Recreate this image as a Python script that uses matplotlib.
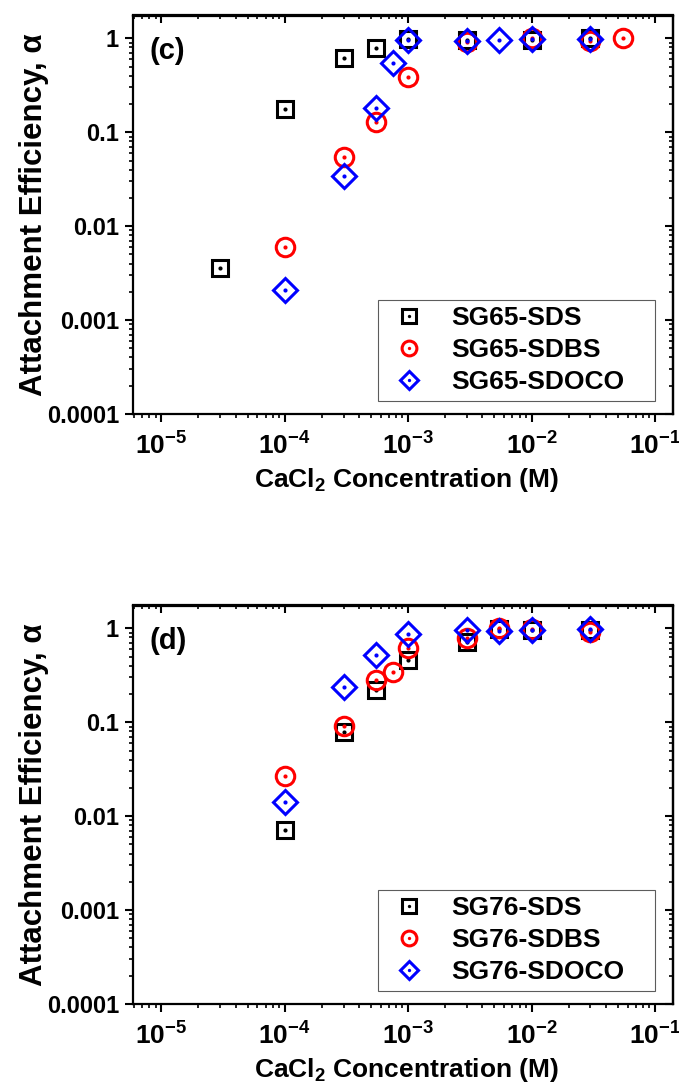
import matplotlib
matplotlib.use("Agg")
import matplotlib.pyplot as plt
from matplotlib.ticker import LogLocator, FixedLocator, FixedFormatter, NullFormatter
from matplotlib.legend_handler import HandlerTuple

plt.rcParams['font.family'] = ['Liberation Sans', 'DejaVu Sans']
plt.rcParams['font.weight'] = 'bold'
plt.rcParams['mathtext.fontset'] = 'custom'
plt.rcParams['mathtext.rm'] = 'Liberation Sans:bold'
plt.rcParams['mathtext.it'] = 'Liberation Sans:bold'
plt.rcParams['mathtext.bf'] = 'Liberation Sans:bold'

# ---------------- data ----------------
# panel (c)
c_sds_x = [3e-5, 1e-4, 3e-4, 5.5e-4, 1e-3, 3e-3, 1e-2, 3e-2]
c_sds_y = [0.0036, 0.175, 0.62, 0.78, 0.99, 0.97, 0.97, 1.0]
c_sdbs_x = [1e-4, 3e-4, 5.5e-4, 1e-3, 3e-3, 1e-2, 3e-2, 5.5e-2]
c_sdbs_y = [0.006, 0.054, 0.13, 0.39, 0.92, 1.0, 0.93, 1.0]
c_sdoco_x = [1e-4, 3e-4, 5.5e-4, 7.6e-4, 1e-3, 3e-3, 5.5e-3, 1e-2, 3e-2]
c_sdoco_y = [0.0021, 0.034, 0.18, 0.55, 0.95, 0.94, 0.96, 0.98, 0.98]

# panel (d)
d_sds_x = [1e-4, 3e-4, 5.5e-4, 1e-3, 3e-3, 5.5e-3, 1e-2, 3e-2]
d_sds_y = [0.0071, 0.079, 0.22, 0.46, 0.72, 0.98, 0.96, 0.97]
d_sdbs_x = [1e-4, 3e-4, 5.5e-4, 7.6e-4, 1e-3, 3e-3, 5.5e-3, 1e-2, 3e-2]
d_sdbs_y = [0.027, 0.092, 0.28, 0.34, 0.61, 0.78, 1.0, 0.98, 0.92]
d_sdoco_x = [1e-4, 3e-4, 5.5e-4, 1e-3, 3e-3, 5.5e-3, 1e-2, 3e-2]
d_sdoco_y = [0.014, 0.24, 0.52, 0.87, 0.95, 0.93, 0.96, 0.98]

c_labels = ['SG65-SDS', 'SG65-SDBS', 'SG65-SDOCO']
d_labels = ['SG76-SDS', 'SG76-SDBS', 'SG76-SDOCO']
panel_tags = ['(c)', '(d)']

x_ticks = [1e-5, 1e-4, 1e-3, 1e-2, 1e-1]
x_ticklabels = [r'$10^{-5}$', r'$10^{-4}$', r'$10^{-3}$', r'$10^{-2}$', r'$10^{-1}$']
y_ticks = [1e-4, 1e-3, 1e-2, 1e-1, 1]
y_ticklabels = ['0.0001', '0.001', '0.01', '0.1', '1']
xlim = (5.9e-6, 0.14)
ylim = (1e-4, 1.75)

x_label = r'CaCl$_2$ Concentration (M)'
y_label = 'Attachment Efficiency, α'

styles = [
    dict(marker='s', ms=12, color='black'),
    dict(marker='o', ms=13.3, color='red'),
    dict(marker='D', ms=12, color='blue'),
]

W, H = 679, 1088
fig = plt.figure(figsize=(W / 100, H / 100), dpi=100)
L, R = 133, 673
panels = [(15.5, 414), (605.5, 1004)]

datasets = [
    [(c_sds_x, c_sds_y), (c_sdbs_x, c_sdbs_y), (c_sdoco_x, c_sdoco_y)],
    [(d_sds_x, d_sds_y), (d_sdbs_x, d_sdbs_y), (d_sdoco_x, d_sdoco_y)],
]
labelsets = [c_labels, d_labels]

for (top, bot), data, labels, tag in zip(panels, datasets, labelsets, panel_tags):
    ax = fig.add_axes([L / W, (H - bot) / H, (R - L) / W, (bot - top) / H])
    ax.set_xscale('log')
    ax.set_yscale('log')
    handles = []
    for (xs, ys), st in zip(data, styles):
        h1, = ax.plot(xs, ys, linestyle='none', marker=st['marker'], ms=st['ms'],
                      mfc='none', mec=st['color'], mew=2.2)
        h2, = ax.plot(xs, ys, linestyle='none', marker='o', ms=3.0,
                      mfc=st['color'], mec=st['color'], mew=0)
        handles.append((h1, h2))
    ax.set_xlim(*xlim)
    ax.set_ylim(*ylim)

    ax.xaxis.set_major_locator(FixedLocator(x_ticks))
    ax.xaxis.set_major_formatter(FixedFormatter(x_ticklabels))
    ax.xaxis.set_minor_locator(LogLocator(base=10, subs=range(2, 10), numticks=20))
    ax.xaxis.set_minor_formatter(NullFormatter())
    ax.yaxis.set_major_locator(FixedLocator(y_ticks))
    ax.yaxis.set_major_formatter(FixedFormatter(y_ticklabels))
    ax.yaxis.set_minor_locator(LogLocator(base=10, subs=range(2, 10), numticks=20))
    ax.yaxis.set_minor_formatter(NullFormatter())

    ax.tick_params(which='major', direction='out', length=6, width=1.5, pad=4)
    ax.tick_params(axis='y', which='major', labelsize=17)
    ax.tick_params(axis='x', which='major', labelsize=19, pad=7)
    ax.tick_params(which='minor', direction='out', length=3, width=1.2)
    for sp in ax.spines.values():
        sp.set_linewidth(1.6)

    secx = ax.secondary_xaxis('top')
    secx.xaxis.set_major_locator(FixedLocator(x_ticks))
    secx.xaxis.set_minor_locator(LogLocator(base=10, subs=range(2, 10), numticks=20))
    secx.tick_params(which='major', direction='in', length=6, width=1.5, labeltop=False)
    secx.tick_params(which='minor', direction='in', length=3, width=1.2)
    secx.xaxis.set_minor_formatter(NullFormatter())
    secx.spines['top'].set_linewidth(1.6)

    secy = ax.secondary_yaxis('right')
    secy.yaxis.set_major_locator(FixedLocator(y_ticks))
    secy.yaxis.set_minor_locator(LogLocator(base=10, subs=range(2, 10), numticks=20))
    secy.tick_params(which='major', direction='in', length=6, width=1.5, labelright=False)
    secy.tick_params(which='minor', direction='in', length=3, width=1.2)
    secy.yaxis.set_minor_formatter(NullFormatter())
    secy.spines['right'].set_linewidth(1.6)

    ax.set_xlabel(x_label, fontsize=19, fontweight='bold')
    ax.xaxis.set_label_coords(0.506, -0.13)
    ax.set_ylabel(y_label, fontsize=22.5, fontweight='bold')
    ax.yaxis.set_label_coords(-0.155, 0.5)

    ax.text(0.031, 0.91, tag, transform=ax.transAxes, fontsize=21,
            fontweight='bold', ha='left', va='center')

    leg = ax.legend(handles, labels, loc='lower left',
                    bbox_to_anchor=(0.454, 0.033, 0.513, 0.25), mode='expand',
                    fontsize=19, frameon=True, fancybox=False, borderpad=0.25,
                    handlelength=1.8, handletextpad=0.7, labelspacing=0.3,
                    borderaxespad=0, markerscale=0.8,
                    handler_map={tuple: HandlerTuple(ndivide=1, pad=0)})
    leg.get_frame().set_edgecolor('#333333')
    leg.get_frame().set_linewidth(0.8)

fig.savefig('out.png', dpi=100)
